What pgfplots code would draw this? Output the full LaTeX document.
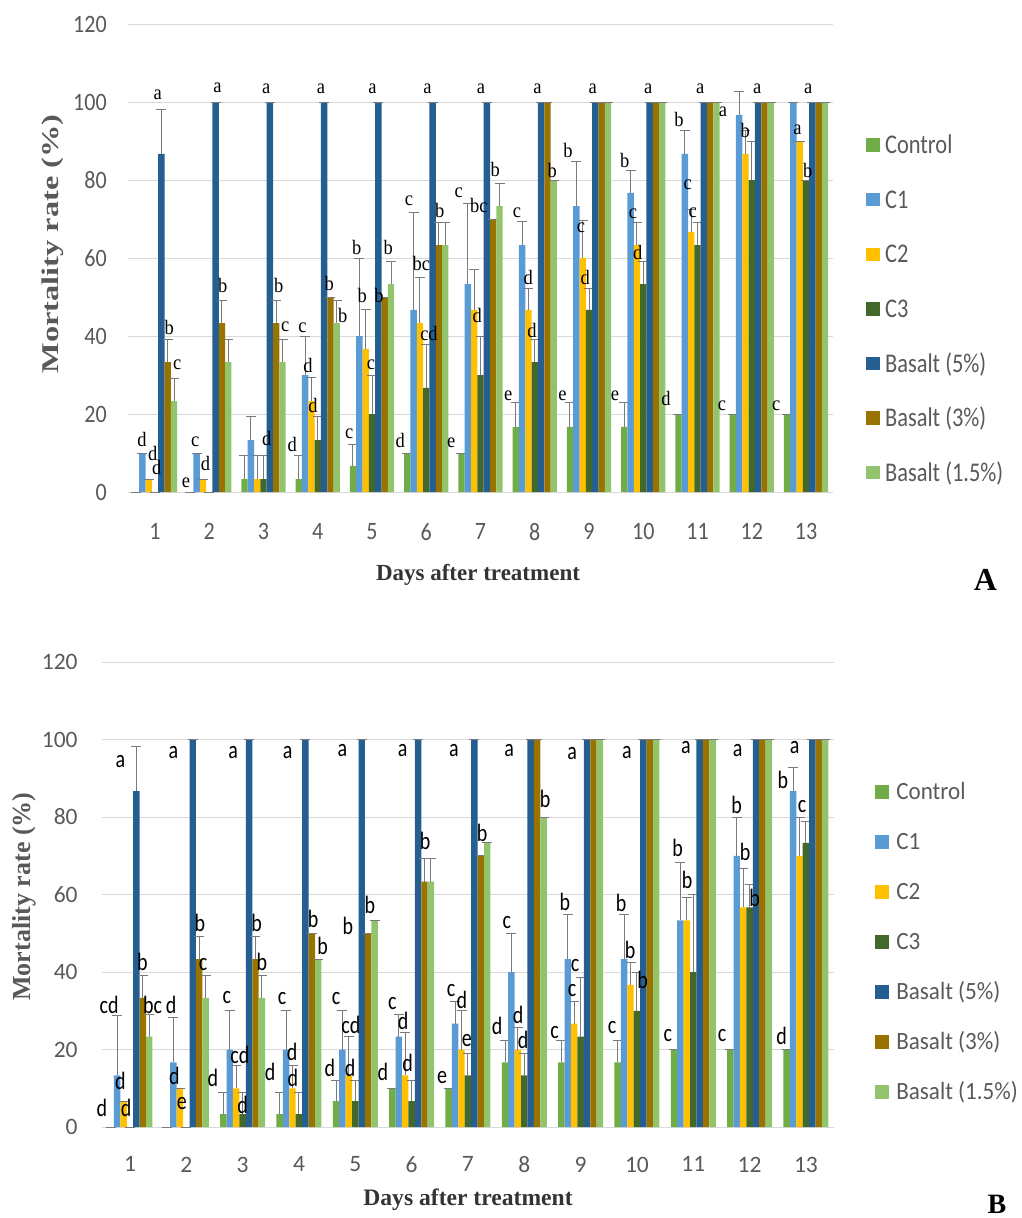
\documentclass[border=0pt]{standalone}
\usepackage{fontspec}
\usepackage{graphicx}
\usepackage{pgfplots}
\usepackage{pgfplotstable}
\pgfplotsset{compat=1.18}
\setmainfont{Liberation Serif}
\newfontfamily\carA{Carlito}[FakeStretch=0.88]
\newfontfamily\carAleg{Carlito}[FakeStretch=0.83]
\newfontfamily\carB{Carlito}
\newfontfamily\carBleg{Carlito}[FakeStretch=0.93]
\newfontfamily\carBlab{Carlito}[FakeStretch=0.8]
\newfontfamily\serA{Liberation Serif}[FakeStretch=0.9]

\newcommand\ftickA{\carA\fontsize{25}{30}\selectfont}
\newcommand\flegA{\carAleg\fontsize{27}{32}\selectfont}
\newcommand\flabA{\serA\fontsize{20.5}{24}\selectfont}
\newcommand\ftickB{\carB\fontsize{23.5}{28}\selectfont}
\newcommand\flegB{\carBleg\fontsize{24.8}{30}\selectfont}
\newcommand\flabB{\carBlab\fontsize{25}{30}\selectfont}

\definecolor{cCtrl}{HTML}{70AD47}
\definecolor{cC1}{HTML}{5B9BD5}
\definecolor{cC2}{HTML}{FFC000}
\definecolor{cC3}{HTML}{43682B}
\definecolor{cB5}{HTML}{255E91}
\definecolor{cB3}{HTML}{997300}
\definecolor{cB15}{HTML}{92C46D}
\definecolor{tgray}{HTML}{595959}
\definecolor{ggray}{HTML}{D9D9D9}
\definecolor{egray}{HTML}{7A7A7A}

% Panel A: values and errors
\pgfplotstableread{
day ctrl c1 c2 c3 b5 b3 b15 ectrl ec1 ec2 ec3 eb5 eb3 eb15
1 0 10 3.3 0 86.7 33.3 23.3 0 0 0 0 11.3 5.8 5.8
2 0 10 3.3 0 100 43.3 33.3 0 0 0 0 0 5.8 5.8
3 3.3 13.3 3.3 3.3 100 43.3 33.3 6 6 6 6 0 5.8 5.8
4 3.3 30 23.3 13.3 100 50 43.3 6 10 6 6 0 0 5.8
5 6.7 40 36.7 20 100 50 53.3 5.5 20 10 10 0 0 5.7
6 10 46.7 43.3 26.7 100 63.3 63.3 0 25 11.7 11.1 0 5.9 5.9
7 10 53.3 46.7 30 100 70 73.3 0 20.8 10.3 10 0 0 5.7
8 16.7 63.3 46.7 33.3 100 100 80 6.2 6 5.6 5.7 0 0 0
9 16.7 73.3 60 46.7 100 100 100 6.2 11.5 9.7 5.6 0 0 0
10 16.7 76.7 63.3 53.3 100 100 100 6.2 5.8 5.9 5.9 0 0 0
11 20 86.7 66.7 63.3 100 100 100 0 6 5.8 5.9 0 0 0
12 20 96.7 86.7 80 100 100 100 0 6 6 10 0 0 0
13 20 100 90 80 100 100 100 0 0 0 0 0 0 0
}\dataA

% Panel A: significance letters (x, bottom y, letter)
\pgfplotstableread{
x y t
0.76 11.5 d
0.96 8 d
1.03 4.5 d
1.05 100.6 a
1.26 40.4 b
1.41 31.4 c
1.57 1 e
1.74 11.5 c
1.93 5.5 d
2.15 102.3 a
2.25 51 b
3.06 11.8 d
3.05 102 a
3.28 51 b
3.40 41 c
3.53 10.2 d
3.72 40.8 c
3.82 30.6 d
3.91 20.3 d
4.06 102 a
4.21 51.5 b
4.46 43.4 b
4.58 13.5 c
4.72 60.9 b
4.82 48.5 b
4.98 31.4 c
5.01 102 a
5.13 48.5 b
5.30 60.9 b
5.52 11.4 d
5.68 73.3 c
5.91 56.6 bc
6.05 38.7 cd
6.02 102 a
6.25 70.3 b
6.46 11.4 e
6.60 75.4 c
6.97 71.6 bc
6.94 43.4 d
7.01 102 a
7.27 80.8 b
7.51 23.3 e
7.67 70.3 c
7.88 53.2 d
7.95 39.5 d
8.05 102 a
8.32 80.5 b
8.51 23.3 e
8.61 85.6 b
8.85 66.5 c
8.93 53 d
9.07 102 a
9.48 23.3 e
9.66 83 b
9.81 69.9 c
9.90 59.6 d
10.09 102 a
10.42 22 d
10.66 93.6 b
10.82 77.5 c
10.91 70.3 c
11.05 102 a
11.45 20.8 c
11.47 96.3 a
11.88 90.8 b
12.10 102 a
12.45 20.8 c
12.84 91.6 a
13.03 80.5 b
13.04 102 a
}\labA

% Panel B: values and errors
\pgfplotstableread{
day ctrl c1 c2 c3 b5 b3 b15 ectrl ec1 ec2 ec3 eb5 eb3 eb15
1 0 13.3 6.7 0 86.7 33.3 23.3 0 15.5 0 0 11.5 5.8 5.8
2 0 16.7 10 0 100 43.3 33.3 0 11.5 0 0 0 5.8 5.8
3 3.3 20 10 3.3 100 43.3 33.3 5.5 10 6 5.5 0 5.8 5.8
4 3.3 20 10 3.3 100 50 43.3 5.5 10 6 5.5 0 0 0
5 6.7 20 13.3 6.7 100 50 53.3 5.3 10 10 5.3 0 0 0
6 10 23.3 13.3 6.7 100 63.3 63.3 0 5.7 11 5.3 0 5.9 5.9
7 10 26.7 20 13.3 100 70 73.3 0 5.6 10 5.6 0 0 0
8 16.7 40 20 13.3 100 100 80 5.5 10 5.8 5.6 0 0 0
9 16.7 43.3 26.7 23.3 100 100 100 5.5 11.6 5.6 15.2 0 0 0
10 16.7 43.3 36.7 30 100 100 100 5.5 11.6 5.8 10 0 0 0
11 20 53.3 53.3 40 100 100 100 0 15 5.8 20 0 0 0
12 20 70 56.7 56.7 100 100 100 0 10 10 6 0 0 0
13 20 86.7 70 73.3 100 100 100 0 6 10 5.5 0 0 0
}\dataB

% Panel B: significance letters (x, bottom y, letter)
\pgfplotstableread{
x y t
0.50 2.6 d
0.63 29.3 cd
0.83 9.5 d
0.93 2.6 d
0.83 92.8 a
1.22 40.4 b
1.40 29.1 bc
1.73 29.1 d
1.79 10.8 d
1.92 4.5 e
1.77 95.1 a
2.24 50.3 b
2.30 40.4 c
2.47 10.3 d
2.72 31.8 c
2.95 16.4 cd
3.00 3.4 d
2.83 95 a
3.25 50.3 b
3.34 40.4 b
3.49 12 d
3.70 31.4 c
3.88 17 d
3.89 10.3 d
3.80 95 a
4.25 51.4 b
4.42 44.3 b
4.55 12.9 d
4.66 31.4 c
4.92 24.1 cd
4.91 12.9 d
4.77 95.5 a
4.87 49.5 b
5.26 55 b
5.49 12 d
5.66 30.3 c
5.85 25.1 d
5.93 14.2 d
5.84 95.5 a
6.24 71.4 b
6.54 11.2 e
6.70 33.6 c
6.89 30.6 d
6.98 20.7 e
6.75 95.5 a
7.25 73.6 b
7.52 23.7 d
7.69 51.2 c
7.89 26.7 d
7.98 20.2 d
7.73 95.5 a
8.37 82.4 b
8.54 22.8 c
8.72 55.9 b
8.85 33.6 c
8.90 40 c
8.85 94.7 a
9.56 24.1 c
9.72 55.5 b
9.88 43.5 b
10.10 35.7 b
9.82 95 a
10.55 21.9 c
10.72 69.7 b
10.89 61.5 b
10.87 96.4 a
11.51 21.9 c
11.77 80.9 b
11.92 68.8 b
12.09 56.8 b
11.79 95.5 a
12.57 21.1 d
12.59 87.3 b
12.93 81 c
12.80 96.4 a
}\labB

\pgfplotsset{
  myerr/.style={
    /pgfplots/error bars/y dir=plus,
    /pgfplots/error bars/y explicit,
    /pgfplots/error bars/error bar style={line width=1pt, draw=egray},
    /pgfplots/error bars/error mark options={line width=1pt, draw=egray, mark size=5pt, rotate=90}},
  sqlegA/.style={legend image code/.code={\fill[##1] (0pt,1.9pt) rectangle (13.5pt,15.4pt);}},
  sqlegB/.style={legend image code/.code={\fill[##1] (0pt,1pt) rectangle (14pt,15pt);}},
  labplot/.style={forget plot, only marks, mark=text, text mark={},
    nodes near coords, point meta=explicit symbolic,
    nodes near coords style={anchor=south, inner sep=0pt, font=#1, text=black}},
  basestyle/.style={
    scale only axis, clip=false,
    xmin=0.5, xmax=13.5, ymin=0, ymax=120,
    xtick={1,...,13}, ytick={0,20,...,120},
    ymajorgrids, major grid style={draw=ggray, line width=1pt},
    axis line style={draw=none}, major tick length=0pt,
    /pgf/number format/assume math mode=true,
    ticklabel style={text=tgray, inner sep=0pt},
  },
}

% bar plot: #1 bar width, #2 colour, #3 x offset, #4 column, #5 table, #6 legend style
\newcommand\barplot[6]{%
  \addplot[ybar, bar width=#1, bar shift=0pt, fill=#2, draw=none, #6, myerr]
    table[x expr=\thisrow{day}+(#3), y=#4, y error=e#4]{#5};}

\begin{document}
\begin{tikzpicture}
\useasboundingbox (0pt,0pt) rectangle (1021pt,-1218pt);

% ---------------- Panel A ----------------
\begin{axis}[basestyle,
  at={(127.9pt,-492pt)}, anchor=south west,
  width=705.25pt, height=468pt,
  ticklabel style={font=\ftickA},
  yticklabel style={anchor=east, xshift=-21pt},
  xticklabel style={anchor=north, yshift=-31pt},
  xlabel={Days after treatment},
  xlabel style={at={(axis description cs:0.4964,-0.177)}, anchor=center,
    font=\bfseries\fontsize{23}{27}\selectfont, text=black!80},
  ylabel={\scalebox{1.35}[1]{Mortality rate (\%)}},
  ylabel style={at={(axis description cs:-0.1062,0.53)}, anchor=center,
    font=\bfseries\fontsize{24}{28}\selectfont, text=tgray},
  legend style={at={(axis description cs:1.0468,0.760)}, anchor=north west,
    draw=none, fill=none, inner sep=0pt, outer sep=0pt,
    row sep=37.2pt, column sep=5.5pt, font=\flegA, text=tgray,
    nodes={inner sep=0pt, text height=17.4pt, text depth=0pt},
    cells={anchor=base west}},
]
\barplot{0.117}{cCtrl}{-0.351}{ctrl}{\dataA}{sqlegA}
\addlegendentry{Control}
\barplot{0.117}{cC1}{-0.234}{c1}{\dataA}{sqlegA}
\addlegendentry{C1}
\barplot{0.117}{cC2}{-0.117}{c2}{\dataA}{sqlegA}
\addlegendentry{C2}
\barplot{0.117}{cC3}{0}{c3}{\dataA}{sqlegA}
\addlegendentry{C3}
\barplot{0.117}{cB5}{0.117}{b5}{\dataA}{sqlegA}
\addlegendentry{Basalt (5\%)}
\barplot{0.117}{cB3}{0.234}{b3}{\dataA}{sqlegA}
\addlegendentry{Basalt (3\%)}
\barplot{0.117}{cB15}{0.351}{b15}{\dataA}{sqlegA}
\addlegendentry{Basalt (1.5\%)}
\addplot[labplot=\flabA] table[x=x, y=y, meta=t]{\labA};
\end{axis}
\node[font=\bfseries\fontsize{32}{36}\selectfont, text=black, inner sep=0pt] at (985.5pt,-580pt) {A};

% ---------------- Panel B ----------------
\begin{axis}[basestyle,
  at={(101.8pt,-1127pt)}, anchor=south west,
  width=732.3pt, height=465pt,
  ticklabel style={font=\ftickB},
  yticklabel style={anchor=east, xshift=-24pt},
  xticklabel style={anchor=north, yshift=-29.6pt},
  xlabel={Days after treatment},
  xlabel style={at={(axis description cs:0.5001,-0.157)}, anchor=center,
    font=\bfseries\fontsize{23.6}{28}\selectfont, text=black!80},
  ylabel={Mortality rate (\%)},
  ylabel style={at={(axis description cs:-0.1065,0.4955)}, anchor=center,
    font=\bfseries\fontsize{26}{30}\selectfont, text=tgray},
  legend style={at={(axis description cs:1.0563,0.7383)}, anchor=north west,
    draw=none, fill=none, inner sep=0pt, outer sep=0pt,
    row sep=34pt, column sep=7pt, font=\flegB, text=tgray,
    nodes={inner sep=0pt, text height=16pt, text depth=0pt},
    cells={anchor=base west}},
]
\barplot{0.114}{cCtrl}{-0.342}{ctrl}{\dataB}{sqlegB}
\addlegendentry{Control}
\barplot{0.114}{cC1}{-0.228}{c1}{\dataB}{sqlegB}
\addlegendentry{C1}
\barplot{0.114}{cC2}{-0.114}{c2}{\dataB}{sqlegB}
\addlegendentry{C2}
\barplot{0.114}{cC3}{0}{c3}{\dataB}{sqlegB}
\addlegendentry{C3}
\barplot{0.114}{cB5}{0.114}{b5}{\dataB}{sqlegB}
\addlegendentry{Basalt (5\%)}
\barplot{0.114}{cB3}{0.228}{b3}{\dataB}{sqlegB}
\addlegendentry{Basalt (3\%)}
\barplot{0.114}{cB15}{0.342}{b15}{\dataB}{sqlegB}
\addlegendentry{Basalt (1.5\%)}
\addplot[labplot=\flabB] table[x=x, y=y, meta=t]{\labB};
\end{axis}
\node[font=\bfseries\fontsize{28}{32}\selectfont, text=black, inner sep=0pt] at (997pt,-1204pt) {B};
\end{tikzpicture}
\end{document}
